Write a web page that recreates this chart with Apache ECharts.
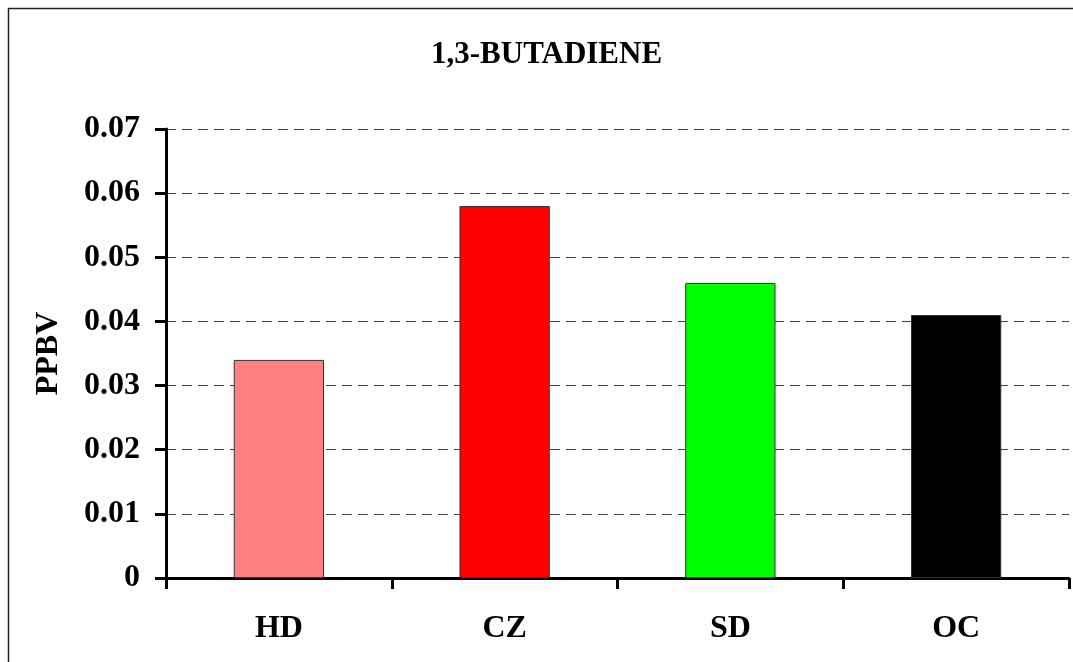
<!DOCTYPE html>
<html>
<head>
<meta charset="utf-8">
<script src="https://cdn.jsdelivr.net/npm/echarts@6/dist/echarts.min.js"></script>
<style>
html,body{margin:0;padding:0;background:#fff;}
#c{width:1073px;height:662px;}
</style>
</head>
<body>
<div id="c"></div>
<script>
const categories = ['HD', 'CZ', 'SD', 'OC'];
const values = [0.034, 0.058, 0.046, 0.041];
const barColors = ['#FF8080', '#FF0000', '#00FF00', '#000000'];
const yTicks = [0, 0.01, 0.02, 0.03, 0.04, 0.05, 0.06, 0.07];

const font = "'Liberation Serif', 'Times New Roman', serif";
const chart = echarts.init(document.getElementById('c'), null, {renderer: 'canvas'});
chart.setOption({
  animation: false,
  backgroundColor: '#fff',
  title: {
    text: '1,3-BUTADIENE',
    left: 426,
    top: 34,
    textStyle: {fontFamily: font, fontWeight: 'bold', fontSize: 31, color: '#000'}
  },
  graphic: [{
    type: 'rect',
    shape: {x: 8.5, y: 8.5, width: 1100, height: 700},
    style: {fill: 'none', stroke: '#222', lineWidth: 1.5},
    silent: true,
    z: 100
  }],
  grid: {left: 166, right: 4, top: 129, bottom: 84, containLabel: false},
  xAxis: {
    type: 'category',
    data: categories,
    axisLine: {lineStyle: {color: '#000', width: 3}},
    axisTick: {show: true, length: 11, lineStyle: {color: '#000', width: 3}},
    axisLabel: {fontFamily: font, fontWeight: 'bold', fontSize: 32, color: '#000', margin: 35},
    splitLine: {show: false}
  },
  yAxis: {
    type: 'value',
    min: 0,
    max: 0.07,
    interval: 0.01,
    name: 'PPBV',
    nameLocation: 'middle',
    nameGap: 101,
    nameTextStyle: {fontFamily: font, fontWeight: 'bold', fontSize: 32, color: '#000'},
    axisLine: {show: true, lineStyle: {color: '#000', width: 3}},
    axisTick: {show: true, length: 11, lineStyle: {color: '#000', width: 3}},
    axisLabel: {
      fontFamily: font, fontWeight: 'bold', fontSize: 32, color: '#000', margin: 26,
      formatter: function (v) {
        const r = Math.round(v * 100) / 100;
        const idx = yTicks.findIndex(t => Math.abs(t - r) < 1e-9);
        return idx >= 0 ? String(yTicks[idx]) : '';
      }
    },
    splitLine: {show: true, lineStyle: {color: '#444', width: 1, type: [10, 6]}}
  },
  series: [{
    type: 'bar',
    data: values.map((v, i) => ({value: v, itemStyle: {color: barColors[i]}})),
    barWidth: '40%',
    itemStyle: {borderColor: '#333', borderWidth: 1}
  }]
});
</script>
</body>
</html>
